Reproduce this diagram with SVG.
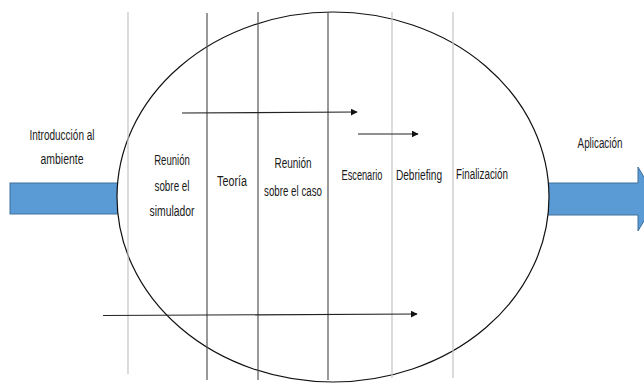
<svg xmlns="http://www.w3.org/2000/svg" width="644" height="383" viewBox="0 0 644 383">
<defs>
<style>
.t{font-family:"Liberation Sans",Arial,sans-serif;font-size:15px;fill:#1a1a1a;text-anchor:middle}
.vl{stroke-width:1.2;fill:none}
.lt{stroke:#c4c4c4}
.dk{stroke:#555}
.blue{fill:#5b9bd5;stroke:#41719c;stroke-width:1}
.ar{stroke:#222;stroke-width:1.2;fill:none;marker-end:url(#ah)}
</style>
<marker id="ah" viewBox="0 0 10 10" refX="9" refY="5" markerWidth="7" markerHeight="7" markerUnits="userSpaceOnUse" orient="auto">
<path d="M0,0 L10,5 L0,10 z" fill="#111"/>
</marker>
</defs>
<rect width="644" height="383" fill="#fff"/>
<g id="entrada">
<rect class="blue" x="10" y="183" width="115" height="31"/>
</g>
<g id="salida">
<polygon class="blue" points="540,183 638,183 638,167 657,199 638,231 638,215 540,215"/>
</g>
<g id="ciclo">
<ellipse cx="333" cy="197" rx="216" ry="185" fill="#fff" stroke="#111" stroke-width="1.2"/>
</g>
<g id="divisiones">
<line class="vl lt" x1="128" y1="12" x2="128" y2="374"/>
<line class="vl dk" x1="207" y1="13" x2="207" y2="380"/>
<line class="vl dk" x1="258" y1="12" x2="258" y2="380"/>
<line class="vl dk" x1="328" y1="12" x2="328" y2="380"/>
<line class="vl lt" x1="392" y1="12" x2="392" y2="378"/>
<line class="vl lt" x1="453" y1="12" x2="453" y2="378"/>
</g>
<g id="connectors">
<line class="ar" x1="182" y1="113" x2="357" y2="112"/>
<line class="ar" x1="358" y1="134" x2="418" y2="134"/>
<line class="ar" x1="103" y1="315.5" x2="417" y2="314"/>
</g>
<g id="introduccion">
<text class="t" transform="translate(62,140) scale(0.65,1)" textLength="100" lengthAdjust="spacingAndGlyphs">Introducción al</text>
<text class="t" transform="translate(62,164) scale(0.65,1)" textLength="66" lengthAdjust="spacingAndGlyphs">ambiente</text>
</g>
<g id="reunion-simulador">
<text class="t" transform="translate(172,165) scale(0.65,1)" textLength="55" lengthAdjust="spacingAndGlyphs">Reunión</text>
<text class="t" transform="translate(172,191) scale(0.65,1)" textLength="54" lengthAdjust="spacingAndGlyphs">sobre el</text>
<text class="t" transform="translate(172,216) scale(0.65,1)" textLength="69" lengthAdjust="spacingAndGlyphs">simulador</text>
</g>
<g id="teoria">
<text class="t" transform="translate(232,186) scale(0.65,1)" textLength="46" lengthAdjust="spacingAndGlyphs">Teoría</text>
</g>
<g id="reunion-caso">
<text class="t" transform="translate(293,168) scale(0.65,1)" textLength="57" lengthAdjust="spacingAndGlyphs">Reunión</text>
<text class="t" transform="translate(293,196) scale(0.65,1)" textLength="89" lengthAdjust="spacingAndGlyphs">sobre el caso</text>
</g>
<g id="escenario">
<text class="t" transform="translate(362,180) scale(0.65,1)" textLength="63" lengthAdjust="spacingAndGlyphs">Escenario</text>
</g>
<g id="debriefing">
<text class="t" transform="translate(419,180) scale(0.65,1)" textLength="71" lengthAdjust="spacingAndGlyphs">Debriefing</text>
</g>
<g id="finalizacion">
<text class="t" transform="translate(482,179) scale(0.65,1)" textLength="80" lengthAdjust="spacingAndGlyphs">Finalización</text>
</g>
<g id="aplicacion">
<text class="t" transform="translate(600,148) scale(0.65,1)" textLength="69" lengthAdjust="spacingAndGlyphs">Aplicación</text>
</g>
</svg>
